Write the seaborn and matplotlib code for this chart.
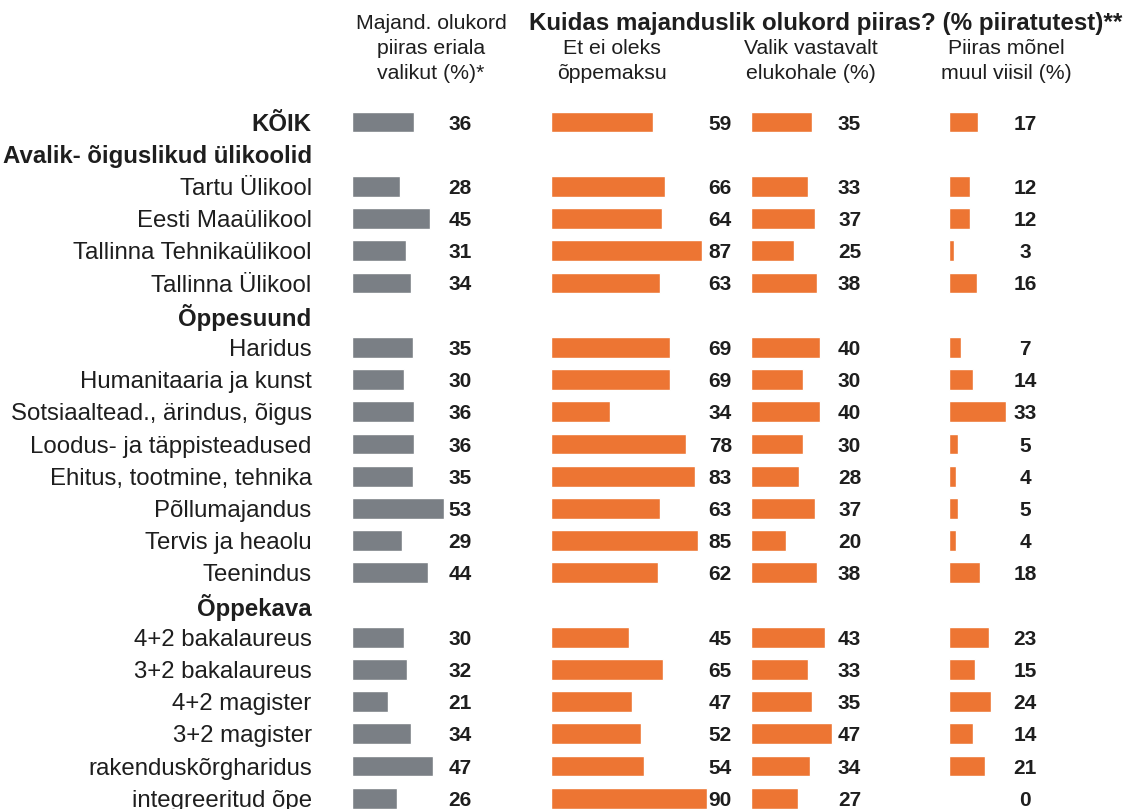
import matplotlib
matplotlib.use("Agg")
import matplotlib.pyplot as plt
import numpy as np
import pandas as pd
import seaborn as sns

nan = np.nan

rows = [
    "KÕIK",
    "Avalik- õiguslikud ülikoolid",
    "Tartu Ülikool",
    "Eesti Maaülikool",
    "Tallinna Tehnikaülikool",
    "Tallinna Ülikool",
    "Õppesuund",
    "Haridus",
    "Humanitaaria ja kunst",
    "Sotsiaaltead., ärindus, õigus",
    "Loodus- ja täppisteadused",
    "Ehitus, tootmine, tehnika",
    "Põllumajandus",
    "Tervis ja heaolu",
    "Teenindus",
    "Õppekava",
    "4+2 bakalaureus",
    "3+2 bakalaureus",
    "4+2 magister",
    "3+2 magister",
    "rakenduskõrgharidus",
    "integreeritud õpe",
]
bold_rows = ["KÕIK", "Avalik- õiguslikud ülikoolid", "Õppesuund", "Õppekava"]

piiras_eriala = [36, nan, 28, 45, 31, 34, nan, 35, 30, 36, 36, 35, 53, 29, 44,
                 nan, 30, 32, 21, 34, 47, 26]
oppemaks = [59, nan, 66, 64, 87, 63, nan, 69, 69, 34, 78, 83, 63, 85, 62,
            nan, 45, 65, 47, 52, 54, 90]
elukoht = [35, nan, 33, 37, 25, 38, nan, 40, 30, 40, 30, 28, 37, 20, 38,
           nan, 43, 33, 35, 47, 34, 27]
muul_viisil = [17, nan, 12, 12, 3, 16, nan, 7, 14, 33, 5, 4, 5, 4, 18,
               nan, 23, 15, 24, 14, 21, 0]

df = pd.DataFrame({
    "grupp": rows,
    "eriala": piiras_eriala,
    "oppemaks": oppemaks,
    "elukoht": elukoht,
    "muul": muul_viisil,
})

sns.set_theme(style="white")
plt.rcParams["font.family"] = ["Liberation Sans", "DejaVu Sans"]

GRAY = "#7a7f85"
ORANGE = "#ed7533"
TEXT = "#1e1e1e"
W, H = 1130, 809
PX = 1.73          # pixels per percentage point
XMAX = 110
ROW_TOP, ROW_STEP = 122, 32.2

n = len(rows)
y_top = ROW_TOP - 0.5 * ROW_STEP
y_bot = ROW_TOP + (n - 0.5) * ROW_STEP
ax_bottom = 1 - y_bot / H
ax_height = (y_bot - y_top) / H

# column, left edge (px), colour, value label x (data units), alignment
columns = [
    ("eriala", 352, GRAY, 62.5, "center"),
    ("oppemaks", 551, ORANGE, 104.5, "right"),
    ("elukoht", 751, ORANGE, 57, "center"),
    ("muul", 949, ORANGE, 44, "center"),
]

fig = plt.figure(figsize=(W / 100, H / 100), dpi=100)

for k, (col, left, color, lx, ha) in enumerate(columns):
    ax = fig.add_axes([left / W, ax_bottom, XMAX * PX / W, ax_height])
    ax.patch.set_alpha(0)
    sub = df.dropna(subset=[col])
    sns.barplot(data=sub, x=col, y="grupp", order=rows, color=color,
                saturation=1, width=0.65, errorbar=None, orient="h", ax=ax)
    ax.set_xlim(0, XMAX)
    ax.set_ylim(n - 0.5, -0.5)
    ax.set_xticks([])
    ax.set_xlabel("")
    ax.set_ylabel("")
    sns.despine(ax=ax, left=True, bottom=True)
    for i, v in enumerate(df[col]):
        if not np.isnan(v):
            ax.text(lx, i, f"{v:.0f}", ha=ha, va="center_baseline",
                    fontsize=15, fontweight="bold", color=TEXT)
    if k == 0:
        ax.tick_params(axis="y", length=0, pad=29, labelsize=17.3,
                       labelcolor=TEXT)
        for lab in ax.get_yticklabels():
            if lab.get_text() in bold_rows:
                lab.set_fontweight("bold")
    else:
        ax.set_yticks([])

def ftext(x, y, s, **kw):
    fig.text(x / W, 1 - y / H, s, **kw)

HDR = dict(va="top", fontsize=15.3, linespacing=1.4, color=TEXT, ha="center")
ftext(431, 14, "Majand. olukord\npiiras eriala\nvalikut (%)*", **HDR)
ftext(826, 12, "Kuidas majanduslik olukord piiras? (% piiratutest)**",
      ha="center", va="top", fontsize=17.4, fontweight="bold", color=TEXT)
ftext(612, 39, "Et ei oleks\nõppemaksu", **HDR)
ftext(811, 39, "Valik vastavalt\nelukohale (%)", **HDR)
ftext(1006, 39, "Piiras mõnel\nmuul viisil (%)", **HDR)

fig.savefig("out.png", dpi=100)
